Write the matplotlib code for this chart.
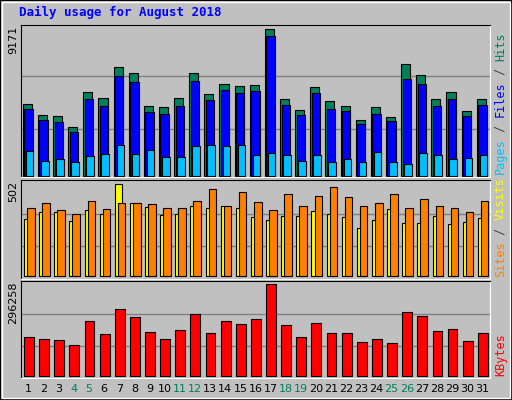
import numpy as np
import matplotlib.pyplot as plt
from matplotlib.patches import Rectangle

days = list(range(1, 32))
weekend = [4, 5, 11, 12, 18, 19, 25, 26]

# values (pixel tops converted to units)
hits_px = [250, 283, 286, 319, 216, 235, 142, 160, 256, 259, 235, 160, 223, 193, 199, 196,
           28, 238, 268, 202, 244, 256, 298, 259, 289, 133, 166, 238, 217, 271, 238]
files_px = [265, 298, 304, 334, 238, 256, 169, 187, 274, 280, 256, 184, 241, 211, 220, 214,
            49, 253, 283, 220, 265, 271, 310, 280, 301, 178, 193, 256, 238, 286, 253]
pages_px = [391, 421, 415, 424, 406, 400, 373, 400, 388, 409, 409, 376, 373, 376, 373, 403,
            397, 403, 421, 403, 424, 415, 424, 394, 424, 430, 397, 403, 415, 412, 403]
sites_px = [133, 112, 112, 139, 106, 118, 28, 85, 97, 121, 118, 94, 100, 94, 100, 127,
            136, 124, 124, 109, 118, 127, 160, 136, 103, 145, 145, 124, 148, 142, 130]
visits_px = [100, 85, 106, 118, 79, 103, 85, 85, 88, 100, 100, 79, 43, 94, 52, 82,
             106, 58, 94, 64, 37, 67, 94, 85, 58, 100, 73, 94, 100, 112, 79]
kb_px = [487, 493, 496, 511, 439, 478, 403, 427, 472, 493, 466, 418, 475, 439, 448, 433,
         328, 451, 487, 445, 475, 475, 502, 493, 505, 412, 424, 469, 463, 499, 475]

HITS_MAX, VIS_MAX, KB_MAX = 9171, 502, 296258
hits = (468 - np.array(hits_px)) * HITS_MAX / 440
files = (468 - np.array(files_px)) * HITS_MAX / 440
pages = (468 - np.array(pages_px)) * HITS_MAX / 440
sites = (304 - np.array(sites_px)) * VIS_MAX / 276
visits = (304 - np.array(visits_px)) * VIS_MAX / 276
kbytes = (602 - np.array(kb_px)) * KB_MAX / 274

BG = "#c0c0c0"
fig = plt.figure(figsize=(5.12, 4.0), dpi=100, facecolor=BG)
fig.patches.append(Rectangle((0, 0), 1, 1, transform=fig.transFigure, fill=False,
                             edgecolor="black", lw=1.5))
fig.patches.append(Rectangle((2 / 512, 2 / 400), 508 / 512, 396 / 400, transform=fig.transFigure,
                             fill=False, edgecolor="white", lw=1))
fig.text(19 / 512, 1 - 12 / 400, "Daily usage for August 2018", color="#0000ff",
         family="DejaVu Sans Mono", weight="bold", fontsize=9, va="center")

L, W = 21 / 512, 469 / 512
x = np.arange(31)


def panel(top, bot, vmax, pad_top, pad_bot):
    ax = fig.add_axes([L, 1 - bot / 400, W, (bot - top) / 400])
    ax.set_facecolor(BG)
    ax.set_xlim(0, 31)
    ax.set_ylim(-vmax * pad_bot, vmax * (1 + pad_top))
    ax.set_xticks([])
    ax.set_yticks([])
    for s in ax.spines.values():
        s.set_color("black")
    ax.spines["bottom"].set_color("white")
    ax.spines["right"].set_color("white")
    for f in (0.325, 0.68):
        ax.axhline(vmax * f, color="#808080", lw=1, zorder=0)
    ax.text(-0.006, 0.99, str(vmax), rotation=90,
            transform=ax.transAxes, ha="right", va="top", fontsize=8)
    return ax


ax1 = panel(24.7, 177, HITS_MAX, 0.032, 0.005)
ax1.bar(x + 0.12, hits, width=0.6, align="edge", color="#00805c", edgecolor="black", lw=0.8)
ax1.bar(x + 0.22, files, width=0.55, align="edge", color="#0000ff", edgecolor="black", lw=0.8)
ax1.bar(x + 0.32, pages, width=0.5, align="edge", color="#00c0ff", edgecolor="black", lw=0.8)

ax2 = panel(179.7, 279, VIS_MAX, 0.05, 0.03)
ax2.bar(x + 0.2, sites, width=0.5, align="edge", color="#ffff00", edgecolor="black", lw=0.8)
ax2.bar(x + 0.4, visits, width=0.5, align="edge", color="#ff8000", edgecolor="black", lw=0.8)

ax3 = panel(280.7, 377.7, KB_MAX, 0.04, 0.022)
ax3.bar(x + 0.2, kbytes, width=0.65, align="edge", color="#ff0000", edgecolor="black", lw=0.8)

for d in days:
    fig.text(L + (d - 0.5) / 31 * W, 1 - 389 / 400, str(d), ha="center", va="center",
             fontsize=8, color="#00805c" if d in weekend else "black")


def side(ax, parts):
    # text reads bottom-up, first part at the bottom
    y = 0.02
    char_px = 0.6 * 8.5 / 72 * 100
    for txt, col in parts:
        ax.text(1.008, y, txt, rotation=90, transform=ax.transAxes, ha="left", va="bottom",
                color=col, family="DejaVu Sans Mono", fontsize=8.5)
        y += len(txt) * char_px / ax.bbox.height


side(ax1, [("Pages", "#00c0ff"), (" / ", "#404040"), ("Files", "#0000ff"),
           (" / ", "#404040"), ("Hits", "#00805c")])
side(ax2, [("Sites", "#ff8000"), (" / ", "#404040"), ("Visits", "#ffff00")])
side(ax3, [("KBytes", "#ff0000")])

fig.savefig("out.png", dpi=100, facecolor=BG)
